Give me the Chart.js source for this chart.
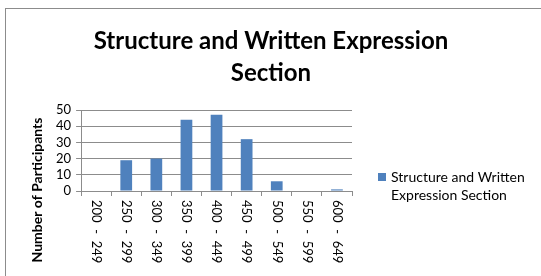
<!DOCTYPE html>
<html>
<head>
<meta charset="utf-8">
<script src="https://cdn.jsdelivr.net/npm/chart.js@4/dist/chart.umd.min.js"></script>
<style>
  html, body { margin: 0; padding: 0; background: #ffffff; overflow: hidden; }
  #frame { position: absolute; left: 5px; top: 8px; width: 600px; height: 320px; border: 1px solid #8c8c8c; }
  #c { position: absolute; left: 0; top: 0; }
</style>
</head>
<body>
<div id="frame"></div>
<canvas id="c" width="541" height="276"></canvas>
<script>
const categories = ["200  -  249", "250  -  299", "300  -  349", "350  -  399", "400  -  449", "450  -  499", "500  -  549", "550  -  599", "600  -  649"];
const participants = [0, 19, 20, 44, 47, 32, 6, 0, 1];
const yTicks = [0, 10, 20, 30, 40, 50];
const titleLines = ["Structure and Written Expression", "Section"];
const seriesName = "Structure and Written Expression Section";
const legendLines = ["Structure and Written", "Expression Section"];
const yTitle = "Number of Participants";

const BAR = "#4F81BD";
const GRID = "#8c8c8c";
const FONT = "Lato, 'Open Sans', sans-serif";

const extras = {
  id: "extras",
  afterDraw(chart) {
    const ctx = chart.ctx;
    const xs = chart.scales.x;
    const area = chart.chartArea;
    ctx.save();
    ctx.fillStyle = "#000";
    // title
    ctx.font = "bold 24px " + FONT;
    ctx.textAlign = "center";
    ctx.textBaseline = "middle";
    titleLines.forEach((t, i) => ctx.fillText(t, 271, 41 + i * 32));
    // x labels
    ctx.font = "13px " + FONT;
    ctx.textAlign = "left";
    ctx.textBaseline = "middle";
    chart.data.labels.forEach((lab, i) => {
      const x = xs.getPixelForValue(i);
      ctx.save();
      ctx.translate(x, area.bottom + 9);
      ctx.rotate(Math.PI / 2);
      ctx.fillText(lab, 0, 0);
      ctx.restore();
    });
    // y axis title
    ctx.save();
    ctx.font = "bold 14px " + FONT;
    ctx.textAlign = "center";
    ctx.translate(37, 190);
    ctx.rotate(-Math.PI / 2);
    ctx.fillText(yTitle, 0, 0);
    ctx.restore();
    // legend
    ctx.fillStyle = BAR;
    ctx.fillRect(378, 173, 8, 8);
    ctx.fillStyle = "#000";
    ctx.font = "14px " + FONT;
    ctx.textAlign = "left";
    legendLines.forEach((t, i) => ctx.fillText(t, 391, 177 + i * 18));
    ctx.restore();
  }
};

new Chart(document.getElementById("c"), {
  type: "bar",
  data: {
    labels: categories,
    datasets: [{
      label: seriesName,
      data: participants,
      backgroundColor: BAR,
      borderWidth: 0,
      barPercentage: 0.39,
      categoryPercentage: 1.0
    }]
  },
  options: {
    responsive: false,
    animation: false,
    devicePixelRatio: 1,
    layout: { padding: { left: 51, right: 189, top: 110, bottom: 80 } },
    plugins: {
      legend: { display: false },
      tooltip: { enabled: false },
      title: { display: false }
    },
    scales: {
      x: {
        ticks: { display: false },
        grid: { display: true, drawOnChartArea: false, drawTicks: true, tickLength: 5, color: GRID, offset: true },
        border: { color: GRID }
      },
      y: {
        min: 0,
        max: 50,
        afterBuildTicks(scale) { scale.ticks = yTicks.map(v => ({ value: v })); },
        ticks: { color: "#000", font: { family: FONT, size: 13 }, padding: 5, autoSkip: false },
        grid: { color: GRID, tickLength: 5 },
        border: { color: GRID }
      }
    }
  },
  plugins: [extras]
});
</script>
</body>
</html>
